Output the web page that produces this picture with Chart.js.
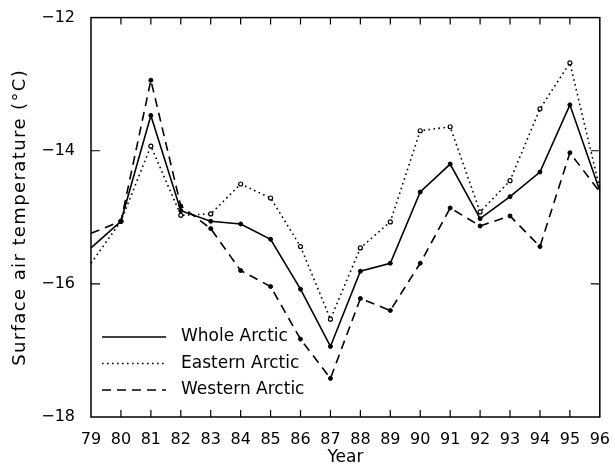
<!DOCTYPE html>
<html>
<head>
<meta charset="utf-8">
<script src="https://cdn.jsdelivr.net/npm/chart.js@4/dist/chart.umd.min.js"></script>
<style>
  body { margin: 0; background: #fff; }
  #wrap { width: 615px; height: 468px; }
</style>
</head>
<body>
<div id="wrap"><canvas id="arcticChart" width="615" height="468"></canvas></div>
<script>
// Chart data
const years = ['79', '80', '81', '82', '83', '84', '85', '86', '87', '88', '89', '90', '91', '92', '93', '94', '95', '96'];
const wholeArctic = [-15.46, -15.06, -13.47, -14.90, -15.06, -15.10, -15.33, -16.08, -16.94, -15.81, -15.69, -14.62, -14.20, -15.02, -14.69, -14.32, -13.31, -14.60];
const easternArctic = [-15.69, -15.06, -13.93, -14.97, -14.95, -14.50, -14.71, -15.44, -16.53, -15.46, -15.07, -13.70, -13.64, -14.92, -14.45, -13.37, -12.68, -14.57];
const westernArctic = [-15.24, -15.06, -12.94, -14.83, -15.17, -15.80, -16.04, -16.83, -17.42, -16.22, -16.40, -15.69, -14.86, -15.13, -14.98, -15.44, -14.03, -14.62];
const yTicks = [-18, -16, -14, -12];
const seriesNames = ['Whole Arctic', 'Eastern Arctic', 'Western Arctic'];
const yTitle = 'Surface air temperature (°C)';

const FONT = 'DejaVu Sans';

// hide markers on the first and last year
function markerRadius(ctx) {
    return (ctx.dataIndex === 0 || ctx.dataIndex === years.length - 1) ? 0 : 2;
}

// Frame with inward tick marks on all four sides
const framePlugin = {
    id: 'frame',
    afterDatasetsDraw(chart) {
        const { ctx, chartArea: a, scales } = chart;
        ctx.save();
        ctx.strokeStyle = '#000';
        ctx.lineWidth = 1.5;
        ctx.strokeRect(a.left, a.top, a.right - a.left, a.bottom - a.top);
        ctx.lineWidth = 1.2;
        ctx.beginPath();
        for (let i = 1; i < years.length - 1; i++) {
            const x = scales.x.getPixelForValue(i);
            ctx.moveTo(x, a.bottom); ctx.lineTo(x, a.bottom - 7);
            ctx.moveTo(x, a.top); ctx.lineTo(x, a.top + 7);
        }
        yTicks.slice(1, -1).forEach(v => {
            const y = scales.y.getPixelForValue(v);
            ctx.moveTo(a.left, y); ctx.lineTo(a.left + 9, y);
            ctx.moveTo(a.right, y); ctx.lineTo(a.right - 9, y);
        });
        ctx.stroke();
        ctx.restore();
    }
};

// Legend inside the plot (lower left) and the y title
const insideLegend = {
    id: 'insideLegend',
    afterDraw(chart) {
        const { ctx, chartArea: a } = chart;
        ctx.save();
        ctx.font = '17px "' + FONT + '"';
        ctx.textAlign = 'left';
        ctx.textBaseline = 'middle';
        ctx.fillStyle = '#000';
        chart.data.datasets.forEach((ds, i) => {
            const y = a.bottom - 80 + i * 26.5;
            ctx.strokeStyle = '#000';
            ctx.lineWidth = ds.borderWidth;
            ctx.setLineDash(ds.borderDash || []);
            ctx.beginPath();
            ctx.moveTo(a.left + 11, y);
            ctx.lineTo(a.left + 75, y);
            ctx.stroke();
            ctx.setLineDash([]);
            ctx.fillText(ds.label, a.left + 90, y);
        });

        // y axis title
        ctx.translate(20, (a.top + a.bottom) / 2);
        ctx.rotate(-Math.PI / 2);
        ctx.textAlign = 'center';
        ctx.font = '18px "' + FONT + '"';
        if ('letterSpacing' in ctx) ctx.letterSpacing = '1.4px';
        ctx.fillText(yTitle, 0, 0);
        ctx.restore();
    }
};

const ctx = document.getElementById('arcticChart').getContext('2d');
new Chart(ctx, {
    type: 'line',
    data: {
        labels: years,
        datasets: [
            {
                label: seriesNames[0],
                data: wholeArctic,
                borderColor: '#000',
                borderWidth: 1.6,
                pointRadius: markerRadius,
                pointBackgroundColor: '#000',
                pointBorderColor: '#000',
                pointBorderWidth: 1,
                tension: 0
            },
            {
                label: seriesNames[1],
                data: easternArctic,
                borderColor: '#000',
                borderWidth: 1.6,
                borderDash: [1.6, 3.4],
                pointRadius: markerRadius,
                pointBackgroundColor: '#fff',
                pointBorderColor: '#000',
                pointBorderWidth: 1.2,
                tension: 0
            },
            {
                label: seriesNames[2],
                data: westernArctic,
                borderColor: '#000',
                borderWidth: 1.6,
                borderDash: [9, 6],
                pointRadius: markerRadius,
                pointBackgroundColor: '#000',
                pointBorderColor: '#000',
                pointBorderWidth: 1,
                tension: 0
            }
        ]
    },
    options: {
        responsive: false,
        devicePixelRatio: 1,
        animation: false,
        layout: { padding: { left: 0, right: 12, top: 14, bottom: 0 } },
        plugins: {
            legend: { display: false },
            tooltip: { enabled: false }
        },
        scales: {
            x: {
                offset: false,
                grid: { display: false },
                border: { display: false },
                ticks: {
                    color: '#000',
                    font: { family: FONT, size: 16 },
                    padding: 5,
                    maxRotation: 0,
                    autoSkip: false
                },
                title: {
                    display: true,
                    text: 'Year',
                    color: '#000',
                    font: { family: FONT, size: 17 },
                    padding: { top: 0, bottom: 0 }
                },
                afterFit: scale => { scale.height = 51; }
            },
            y: {
                min: -18,
                max: -12,
                grid: { display: false },
                border: { display: false },
                afterBuildTicks: scale => {
                    scale.ticks = yTicks.map(v => ({ value: v }));
                },
                ticks: {
                    color: '#000',
                    font: { family: FONT, size: 16 },
                    padding: 8,
                    callback: v => '\u2212' + Math.abs(v)
                },
                afterFit: scale => { scale.width = 91; }
            }
        }
    },
    plugins: [framePlugin, insideLegend]
});
</script>
</body>
</html>
